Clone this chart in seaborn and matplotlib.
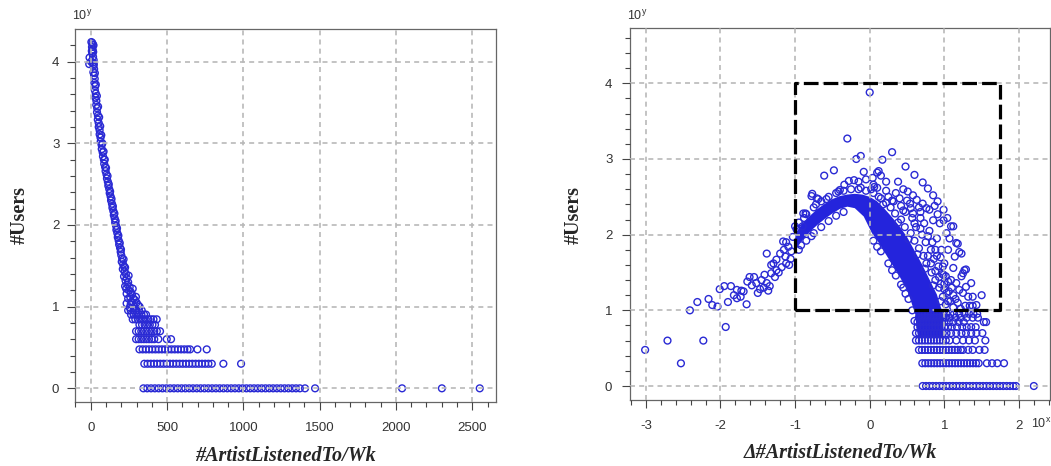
import pandas as pd
import seaborn as sns
import matplotlib.pyplot as plt
from matplotlib.ticker import MultipleLocator

sns.set_style('white')
plt.rcParams['font.family'] = ['Liberation Sans', 'DejaVu Sans']
plt.rcParams['mathtext.default'] = 'regular'
plt.rcParams['axes.unicode_minus'] = False

AZUL = '#2a2ad4'
AZUL_DENSO = '#2424dc'
CINZA_GRADE = '#b9b9b9'

# ---------------- painel esquerdo: #ArtistListenedTo/Wk x log10(#Users)
curva_esq = [(4, 4.24), (10, 4.23), (14, 4.21), (18, 4.20), (8, 4.18), (12, 4.15), (16, 4.12),
             (10, 4.10), (15, 4.06), (19, 4.02), (13, 3.99), (18, 3.95), (22, 3.91), (17, 3.87),
             (22, 3.83), (26, 3.79), (24, 3.74), (29, 3.70), (27, 3.65), (33, 3.61), (31, 3.56),
             (37, 3.52), (36, 3.47), (42, 3.43), (41, 3.38), (47, 3.34), (46, 3.29), (52, 3.25),
             (52, 3.20), (58, 3.16), (58, 3.11), (64, 3.07), (65, 3.02), (71, 2.98), (72, 2.93),
             (78, 2.89), (80, 2.84), (86, 2.80), (88, 2.75), (94, 2.71), (97, 2.66), (103, 2.62),
             (106, 2.57), (112, 2.53), (115, 2.48), (121, 2.44), (124, 2.39), (130, 2.35),
             (133, 2.30), (139, 2.26), (142, 2.21), (148, 2.17), (151, 2.12), (157, 2.08),
             (160, 2.03), (166, 1.99), (168, 1.94), (174, 1.90), (177, 1.85), (183, 1.81),
             (186, 1.76), (192, 1.72), (196, 1.67), (200, 1.63), (206, 1.59), (203, 1.55),
             (212, 1.52), (218, 1.49), (210, 1.46), (222, 1.43), (230, 1.40), (218, 1.37),
             (236, 1.35), (228, 1.32), (245, 1.30), (240, 1.27), (225, 1.25), (255, 1.24),
             (250, 1.20), (262, 1.18), (235, 1.16), (270, 1.15), (258, 1.12), (245, 1.10),
             (280, 1.10), (290, 1.08), (268, 1.06), (300, 1.05), (235, 1.04), (310, 1.02),
             (285, 1.00), (320, 1.00), (255, 0.99), (-8, 4.05), (-10, 3.97), (2, 4.00),
             (7, 4.13), (20, 3.97), (27, 3.86), (33, 3.72), (40, 3.58), (48, 3.45), (55, 3.32),
             (62, 3.21), (69, 3.10), (76, 3.00), (84, 2.90), (92, 2.80), (100, 2.70),
             (110, 2.60), (118, 2.50), (127, 2.41), (136, 2.32), (145, 2.23), (155, 2.14),
             (163, 2.05), (172, 1.96), (181, 1.87), (190, 1.78), (198, 1.70), (215, 1.58),
             (225, 1.48), (248, 1.38), (232, 1.22), (275, 1.22), (296, 1.12), (262, 1.03)]

# linhas discretas (log10 de 1..9 usuarios)
esq_n9 = [245, 262, 280, 298, 316, 334]
esq_n8 = [264, 281, 298, 315, 332, 349, 362]
esq_n7 = [275, 292, 309, 326, 343, 360, 377, 394, 411, 432]
esq_n6 = [319, 336, 353, 370, 387, 404, 421]
esq_n5 = [297, 314, 331, 348, 365, 382, 399, 416, 433, 454]
esq_n4 = [297, 314, 331, 348, 365, 382, 399, 416, 443, 498, 526]
esq_n3 = [319, 340, 361, 382, 403, 424, 445, 466, 487, 508, 529, 550, 571, 592, 613, 634,
          651, 699, 760]
esq_n2 = [351, 372, 393, 414, 435, 456, 477, 498, 519, 540, 561, 582, 603, 624, 645, 666,
          687, 708, 729, 750, 771, 793, 869, 985]
esq_n1 = [345, 370, 395, 420, 445, 470, 495, 520, 545, 570, 595, 620, 645, 670, 695, 720,
          745, 770, 795, 820, 845, 870, 895, 920, 945, 970, 995, 1020, 1045, 1070, 1095,
          1120, 1145, 1170, 1195, 1220, 1245, 1270, 1295, 1320, 1345, 1370, 1404, 1470,
          2040, 2301, 2549]
niveis = [0.954, 0.903, 0.845, 0.778, 0.699, 0.602, 0.477, 0.301, 0.0]

# ---------------- painel direito: delta #ArtistListenedTo/Wk
braco_esq = [(-3.01, 0.477), (-2.71, 0.60), (-2.53, 0.30), (-2.23, 0.60), (-1.93, 0.78),
             (-2.41, 1.00), (-2.31, 1.11), (-2.16, 1.15), (-2.11, 1.07), (-2.04, 1.05),
             (-2.01, 1.28), (-1.95, 1.32), (-1.86, 1.32), (-1.90, 1.11), (-1.82, 1.20),
             (-1.78, 1.16), (-1.73, 1.18), (-1.65, 1.08), (-1.72, 1.26), (-1.69, 1.25),
             (-1.61, 1.44), (-1.55, 1.44), (-1.58, 1.33), (-1.52, 1.36), (-1.50, 1.23),
             (-1.45, 1.40), (-1.41, 1.47), (-1.38, 1.36), (-1.34, 1.32), (-1.32, 1.49),
             (-1.27, 1.44), (-1.25, 1.53), (-1.38, 1.75), (-1.36, 1.26), (-1.32, 1.60),
             (-1.25, 1.67), (-1.20, 1.75), (-1.16, 1.91), (-1.15, 1.80), (-1.18, 1.57),
             (-1.13, 1.71), (-1.09, 1.84), (-1.05, 1.78), (-1.08, 1.60), (-1.00, 2.11),
             (-1.03, 1.97), (-1.29, 1.62), (-1.22, 1.50), (-1.12, 1.62), (-1.06, 1.68),
             (-1.12, 1.90), (-1.42, 1.30), (-1.47, 1.28), (-1.64, 1.38), (-1.78, 1.27),
             (-0.89, 2.28), (-0.86, 2.28), (-0.90, 2.11), (-0.98, 2.07), (-0.78, 2.51),
             (-0.77, 2.54), (-0.71, 2.48), (-0.69, 2.47), (-0.61, 2.78), (-0.48, 2.85),
             (-0.40, 2.59), (-0.34, 2.66), (-0.28, 2.71), (-0.21, 2.72), (-0.15, 2.70),
             (-0.08, 2.83), (-0.05, 2.73), (0.04, 2.75), (0.10, 2.82), (0.12, 2.84),
             (0.06, 2.63), (0.22, 2.70)]

borda_nucleo = [(-0.95, 2.16), (-0.85, 2.27), (-0.75, 2.36), (-0.65, 2.44), (-0.55, 2.50),
                (-0.45, 2.55), (-0.35, 2.58), (-0.25, 2.60), (-0.15, 2.60), (-0.05, 2.58),
                (0.05, 2.55), (0.15, 2.48), (-0.95, 1.80), (-0.85, 1.92), (-0.75, 2.02),
                (-0.65, 2.10), (-0.55, 2.18), (-0.45, 2.25), (-0.35, 2.30), (0.05, 1.92),
                (0.15, 1.78), (0.25, 1.62), (0.35, 1.46), (0.45, 1.30), (0.52, 1.15),
                (0.57, 1.00), (0.60, 0.86), (0.42, 1.34), (-0.58, 2.47), (-0.42, 2.57),
                (-0.12, 2.62), (0.02, 2.60), (-0.88, 2.22), (-0.72, 2.40), (-0.92, 1.86),
                (-0.78, 1.98), (0.10, 1.84), (0.30, 1.53), (0.48, 1.22)]

franja = [(0.12, 2.50), (0.22, 2.42), (0.28, 2.36), (0.34, 2.28), (0.42, 2.20), (0.47, 2.10),
          (0.55, 2.02), (0.60, 1.92), (0.66, 1.82), (0.72, 1.72), (0.76, 1.62), (0.83, 1.50),
          (0.88, 1.40), (0.93, 1.30), (0.98, 1.18), (1.02, 1.08), (0.25, 2.50), (0.32, 2.44),
          (0.45, 2.32), (0.57, 2.22), (0.62, 2.10), (0.70, 2.00), (0.75, 1.90), (0.82, 1.80),
          (0.86, 1.68), (0.92, 1.58), (0.97, 1.48), (1.00, 1.35), (1.06, 1.25), (1.08, 1.12),
          (1.12, 1.04), (1.18, 1.10), (1.22, 1.02), (1.28, 1.06), (0.95, 1.70), (1.00, 1.62),
          (0.90, 1.95), (0.80, 2.05), (0.68, 2.22), (0.55, 2.35), (0.50, 2.45), (0.35, 2.55),
          (0.22, 2.58), (0.10, 2.62), (0.15, 2.78), (0.05, 2.66), (0.18, 2.40), (0.38, 2.16),
          (0.52, 1.94), (0.64, 1.74), (0.74, 1.55), (0.85, 1.33), (0.95, 1.12)]

meio = [(0.38, 2.70), (0.40, 2.48), (0.51, 2.57), (0.54, 2.41), (0.63, 2.46), (0.66, 2.36),
        (0.71, 2.41), (0.76, 2.35), (0.80, 2.33), (0.87, 2.38), (0.91, 2.27), (0.85, 2.19),
        (0.94, 2.15), (0.99, 2.19), (1.03, 2.02), (1.07, 1.95), (1.12, 2.11), (1.05, 1.80),
        (1.14, 1.71), (1.20, 1.77), (1.25, 1.49), (1.23, 1.45), (1.12, 1.56), (1.20, 1.27),
        (1.32, 1.18), (1.09, 1.40), (0.99, 1.47), (1.16, 1.36), (1.03, 1.23), (1.25, 1.23),
        (1.29, 1.31), (0.30, 2.45), (0.42, 2.38), (0.48, 2.30), (0.58, 2.28), (0.60, 2.15),
        (0.68, 2.08), (0.73, 2.15), (0.78, 1.98), (0.84, 1.90), (0.88, 1.80), (0.90, 1.72),
        (0.96, 1.80), (0.98, 1.58), (1.02, 1.45), (1.05, 1.38), (1.10, 1.30), (1.12, 1.20),
        (1.15, 1.15), (0.78, 1.72), (0.82, 1.62), (0.88, 1.52), (0.93, 1.44), (0.95, 1.35),
        (1.00, 1.28), (1.05, 1.12), (0.45, 2.60), (0.58, 2.52), (0.68, 2.30)]

arco_externo = [(0.00, 3.88), (-0.30, 3.27), (-0.18, 3.00), (-0.12, 3.04), (0.17, 2.99),
                (0.30, 3.09), (0.48, 2.90), (0.60, 2.79), (0.71, 2.69), (0.78, 2.61),
                (0.85, 2.52), (0.91, 2.44), (0.99, 2.33), (1.04, 2.22), (1.09, 2.11),
                (1.16, 1.89), (1.18, 1.88), (1.23, 1.75), (1.27, 1.53), (1.29, 1.54),
                (1.36, 1.36), (1.38, 1.18), (1.50, 1.20), (1.43, 1.07), (1.38, 1.06),
                (1.34, 1.06)]

dir_n9 = [0.70, 0.74, 0.78, 0.82, 0.86, 0.90, 0.94, 0.98, 1.03, 1.08, 1.13, 1.20, 1.27, 1.33,
          1.39, 1.44]
dir_n8 = [0.66, 0.70, 0.74, 0.78, 0.82, 0.86, 0.90, 0.94, 0.98, 1.02, 1.07, 1.15, 1.22, 1.30,
          1.38, 1.45]
dir_n7 = [0.64, 0.68, 0.72, 0.76, 0.80, 0.84, 0.88, 0.92, 0.96, 1.00, 1.06, 1.12, 1.19, 1.26,
          1.53, 1.56]
dir_n6 = [0.64, 0.68, 0.72, 0.76, 0.80, 0.84, 0.88, 0.92, 0.96, 1.00, 1.05, 1.10, 1.17, 1.24,
          1.30, 1.36, 1.42]
dir_n5 = [0.62, 0.66, 0.70, 0.74, 0.78, 0.82, 0.86, 0.90, 0.94, 0.98, 1.03, 1.09, 1.16, 1.23,
          1.29, 1.36, 1.43, 1.51]
dir_n4 = [0.62, 0.66, 0.70, 0.74, 0.78, 0.82, 0.86, 0.90, 0.94, 0.98, 1.02, 1.07, 1.16, 1.25,
          1.33, 1.41, 1.55]
dir_n3 = [0.66, 0.70, 0.74, 0.78, 0.82, 0.86, 0.90, 0.94, 0.98, 1.02, 1.06, 1.10, 1.14, 1.18,
          1.22, 1.25, 1.32, 1.38, 1.47, 1.54]
dir_n2 = [0.705, 0.745, 0.785, 0.825, 0.865, 0.905, 0.945, 0.985, 1.025, 1.065, 1.105, 1.145,
          1.185, 1.225, 1.265, 1.305, 1.345, 1.385, 1.425, 1.46, 1.57, 1.64, 1.71, 1.80]
dir_n1 = [0.71, 0.755, 0.80, 0.845, 0.89, 0.935, 0.98, 1.025, 1.07, 1.115, 1.16, 1.205, 1.25,
          1.295, 1.34, 1.385, 1.43, 1.475, 1.52, 1.565, 1.61, 1.655, 1.70, 1.745, 1.79, 1.835,
          1.88, 1.925, 1.96, 2.20]

# contorno da regiao saturada (milhares de pontos sobrepostos)
nucleo = [(-1.00, 1.92), (-0.98, 2.04), (-0.90, 2.15), (-0.80, 2.25), (-0.70, 2.34),
          (-0.60, 2.41), (-0.50, 2.47), (-0.40, 2.51), (-0.30, 2.53), (-0.20, 2.54),
          (-0.10, 2.53), (0.00, 2.50), (0.10, 2.44), (0.20, 2.34), (0.30, 2.23), (0.40, 2.11),
          (0.50, 1.97), (0.60, 1.79), (0.70, 1.61), (0.80, 1.41), (0.90, 1.21), (0.96, 1.02),
          (0.99, 0.90), (0.99, 0.64), (0.65, 0.64), (0.63, 0.75), (0.61, 0.95), (0.56, 1.10),
          (0.51, 1.25), (0.41, 1.43), (0.31, 1.59), (0.21, 1.75), (0.11, 1.91), (0.03, 2.02),
          (-0.08, 2.24), (-0.20, 2.35), (-0.30, 2.37), (-0.40, 2.34), (-0.50, 2.28),
          (-0.60, 2.21), (-0.70, 2.13), (-0.80, 2.04), (-0.90, 1.93), (-0.98, 1.82)]

caixa_x = [-1.0, 1.74, 1.74, -1.0, -1.0]
caixa_y = [1.0, 1.0, 4.0, 4.0, 1.0]


def montar_tabela(pares, linhas):
    xs = [p[0] for p in pares]
    ys = [p[1] for p in pares]
    for nivel, lista in zip(niveis, linhas):
        xs += lista
        ys += [nivel] * len(lista)
    return pd.DataFrame({'x': xs, 'y': ys})


dados_esq = montar_tabela(curva_esq, [esq_n9, esq_n8, esq_n7, esq_n6, esq_n5, esq_n4,
                                      esq_n3, esq_n2, esq_n1])
dados_dir = montar_tabela(braco_esq + borda_nucleo + franja + meio + arco_externo,
                          [dir_n9, dir_n8, dir_n7, dir_n6, dir_n5, dir_n4, dir_n3, dir_n2,
                           dir_n1])


def estilizar(ax, passo_x, menor_x):
    ax.set_axisbelow(False)
    ax.grid(True, color=CINZA_GRADE, linewidth=1.2, linestyle=(0, (3, 2.5)))
    ax.xaxis.set_major_locator(MultipleLocator(passo_x))
    ax.xaxis.set_minor_locator(MultipleLocator(menor_x))
    ax.yaxis.set_major_locator(MultipleLocator(1))
    ax.yaxis.set_minor_locator(MultipleLocator(0.2))
    ax.tick_params(which='both', direction='out', color='#444444', width=0.8,
                   bottom=True, left=True, top=False, right=False)
    ax.tick_params(which='major', length=6, labelsize=9.5, labelcolor='#333333')
    ax.tick_params(which='minor', length=3.3)
    for lado in ax.spines.values():
        lado.set_color('#666666')
        lado.set_linewidth(0.9)


fig = plt.figure(figsize=(10.51, 4.66), dpi=100)
ax1 = fig.add_axes([0.0714, 0.1367, 0.4003, 0.8004])
ax2 = fig.add_axes([0.5994, 0.1416, 0.3992, 0.7977])

estilo_pontos = dict(marker='o', s=24, facecolors='none', edgecolor=AZUL, linewidth=1.0,
                     zorder=2)

sns.scatterplot(data=dados_esq, x='x', y='y', ax=ax1, **estilo_pontos)
ax1.set_xlim(-103, 2654)
ax1.set_ylim(-0.171, 4.396)
estilizar(ax1, 500, 100)
ax1.tick_params(axis='x', pad=8.4)
ax1.tick_params(axis='y', pad=5.3)

ax2.fill([p[0] for p in nucleo], [p[1] for p in nucleo], color=AZUL_DENSO,
         linewidth=0, zorder=1.5)
sns.scatterplot(data=dados_dir, x='x', y='y', ax=ax2, **estilo_pontos)
ax2.plot(caixa_x, caixa_y, color='black', linewidth=2.3, linestyle=(0, (4.6, 1.6)),
         zorder=4)
ax2.set_xlim(-3.213, 2.41)
ax2.set_ylim(-0.185, 4.727)
estilizar(ax2, 1, 0.2)
ax2.tick_params(axis='x', pad=8.6)
ax2.tick_params(axis='y', pad=6.7)

fonte_rotulo = dict(family=['Liberation Serif', 'DejaVu Serif'], fontsize=14.5,
                    fontweight='bold')
for ax, texto_x, cx, cy, lx, ly in [
        (ax1, '#ArtistListenedTo/Wk', 0.5004, -0.1432, -0.1319, 0.502),
        (ax2, '\u0394#ArtistListenedTo/Wk', 0.502, -0.1434, -0.1333, 0.4977)]:
    ax.set_xlabel(texto_x, fontstyle='italic', **fonte_rotulo)
    ax.set_ylabel('#Users', **fonte_rotulo)
    ax.xaxis.set_label_coords(cx, cy)
    ax.yaxis.set_label_coords(lx, ly)
    ax.xaxis.label.set_va('center')
    ax.yaxis.label.set_va('center')

fig.text(0.078, 0.9667, '$10^y$', fontsize=9, color='#333333', ha='center', va='center')
fig.text(0.606, 0.9657, '$10^y$', fontsize=9, color='#333333', ha='center', va='center')
fig.text(0.9905, 0.0895, '$10^x$', fontsize=9, color='#333333', ha='center', va='center')

plt.savefig('out.png', dpi=100)
plt.close()
